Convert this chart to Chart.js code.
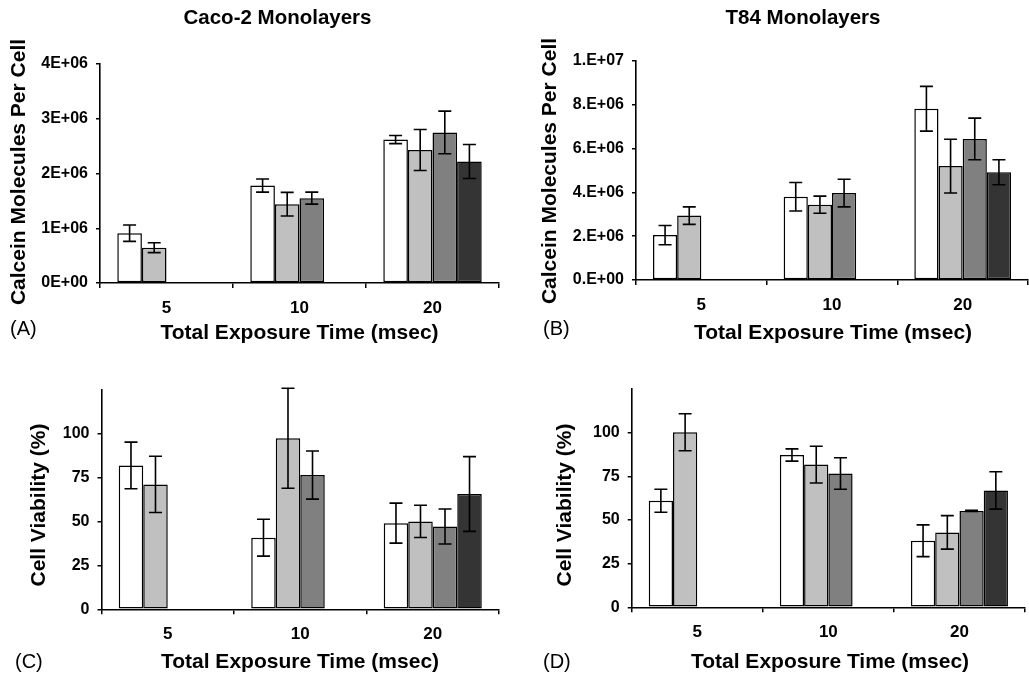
<!DOCTYPE html>
<html>
<head>
<meta charset="utf-8">
<title>Calcein uptake and cell viability</title>
<script src="https://cdn.jsdelivr.net/npm/chart.js@4.4.1/dist/chart.umd.min.js"></script>
<style>
  html, body { margin: 0; padding: 0; background: #ffffff; }
  #page { position: relative; width: 1029px; height: 676px; overflow: hidden; background: #ffffff; }
  #page canvas { position: absolute; left: 0; top: 0; }
</style>
</head>
<body>
<div id="page">
  <canvas id="panelA" width="1029" height="676"></canvas>
  <canvas id="panelB" width="1029" height="676"></canvas>
  <canvas id="panelC" width="1029" height="676"></canvas>
  <canvas id="panelD" width="1029" height="676"></canvas>
</div>
<script>
// ---- data -------------------------------------------------------------
const exposureTimes = ['5', '10', '20'];

// Calcein uptake in Caco-2 monolayers (molecules per cell), one row per group
const cacoUptake = [
  [0.91e6, 1.78e6, 2.62e6],
  [0.645e6, 1.44e6, 2.43e6],
  [null, 1.55e6, 2.75e6],
  [null, null, 2.22e6]
];
const cacoUptakeErr = [
  [0.15e6, 0.12e6, 0.075e6],
  [0.09e6, 0.215e6, 0.375e6],
  [null, 0.11e6, 0.39e6],
  [null, null, 0.31e6]
];

// Calcein uptake in T84 monolayers (molecules per cell)
const t84Uptake = [
  [2.05e6, 3.8e6, 7.82e6],
  [2.94e6, 3.44e6, 5.2e6],
  [null, 3.97e6, 6.44e6],
  [null, null, 4.92e6]
];
const t84UptakeErr = [
  [0.44e6, 0.65e6, 1.02e6],
  [0.4e6, 0.39e6, 1.23e6],
  [null, 0.63e6, 0.95e6],
  [null, null, 0.57e6]
];

// Cell viability (%) in Caco-2 monolayers
const cacoViability = [
  [82, 40.8, 49.1],
  [71.2, 97.5, 50.1],
  [null, 76.5, 47.2],
  [null, null, 65.7]
];
const cacoViabilityErr = [
  [13.3, 10.5, 11.4],
  [16, 28.5, 9.2],
  [null, 13.7, 10],
  [null, null, 21.3]
];

// Cell viability (%) in T84 monolayers
const t84Viability = [
  [61, 87.2, 38.1],
  [100.2, 81.7, 42.9],
  [null, 76.6, 55.2],
  [null, null, 66.9]
];
const t84ViabilityErr = [
  [6.6, 3.5, 9.1],
  [10.6, 10.5, 9.6],
  [null, 9, 0.3],
  [null, null, 10.7]
];

// Tick labels
const cacoUptakeTicks = ['0E+00', '1E+06', '2E+06', '3E+06', '4E+06'];
const t84UptakeTicks = ['0.E+00', '2.E+06', '4.E+06', '6.E+06', '8.E+06', '1.E+07'];
const viabilityTicks = ['0', '25', '50', '75', '100', ''];

// ---- styling ----------------------------------------------------------
const FONT = '"Liberation Sans", Arial, Helvetica, sans-serif';
const fills = ['#ffffff', '#c0c0c0', '#808080', '#343434'];
const INK = '#000000';
const PAGE_W = 1029, PAGE_H = 676;
const Y_BOX = 90, X_BOX = 40;

// Error bars (mean ± SD) drawn through the value scale
const errorBars = {
  id: 'errorBars',
  afterDatasetsDraw(chart, args, opts) {
    const { ctx } = chart;
    const yScale = chart.scales.y;
    ctx.save();
    ctx.strokeStyle = opts.color || INK;
    ctx.lineWidth = opts.width || 1.6;
    chart.data.datasets.forEach((ds, i) => {
      const meta = chart.getDatasetMeta(i);
      meta.data.forEach((bar, j) => {
        const v = ds.data[j];
        const e = ds.errors ? ds.errors[j] : null;
        if (v == null || e == null) return;
        const yTop = yScale.getPixelForValue(v + e);
        const yBot = yScale.getPixelForValue(v - e);
        const x = bar.x;
        const half = opts.cap / 2;
        ctx.beginPath();
        ctx.moveTo(x, yTop); ctx.lineTo(x, yBot);
        ctx.moveTo(x - half, yTop); ctx.lineTo(x + half, yTop);
        ctx.moveTo(x - half, yBot); ctx.lineTo(x + half, yBot);
        ctx.stroke();
      });
    });
    ctx.restore();
  }
};

// Panel headings, axis titles and panel letter
const panelText = {
  id: 'panelText',
  afterDraw(chart, args, o) {
    const { ctx } = chart;
    ctx.save();
    ctx.fillStyle = INK;
    ctx.textBaseline = 'middle';
    ctx.textAlign = 'center';
    if (o.title) {
      ctx.font = 'bold 20.5px ' + FONT;
      ctx.fillText(o.title, o.titleAt[0], o.titleAt[1]);
    }
    ctx.font = 'bold 21px ' + FONT;
    ctx.fillText(o.xTitle, o.xTitleAt[0], o.xTitleAt[1]);
    ctx.save();
    ctx.translate(o.yTitleAt[0], o.yTitleAt[1]);
    ctx.rotate(-Math.PI / 2);
    ctx.fillText(o.yTitle, 0, 0);
    ctx.restore();
    ctx.font = '20px ' + FONT;
    ctx.textAlign = 'left';
    ctx.fillText(o.letter, o.letterAt[0], o.letterAt[1]);
    ctx.restore();
  }
};

function buildDatasets(means, errs) {
  return means.map((row, k) => ({
    label: 'Group ' + (k + 1),
    data: row,
    errors: errs[k],
    backgroundColor: fills[k],
    borderColor: INK,
    borderWidth: 1.5,
    borderSkipped: false,
    categoryPercentage: 0.74,
    barPercentage: 1.0
  }));
}

function makePanel(canvasId, cfg) {
  const area = cfg.area;
  const labels = cfg.tickLabels;
  return new Chart(document.getElementById(canvasId), {
    type: 'bar',
    data: { labels: exposureTimes, datasets: buildDatasets(cfg.means, cfg.errs) },
    plugins: [errorBars, panelText],
    options: {
      responsive: false,
      devicePixelRatio: 1,
      animation: false,
      events: [],
      layout: {
        padding: {
          left: area.left - Y_BOX,
          right: PAGE_W - area.right,
          top: area.top,
          bottom: PAGE_H - area.bottom - X_BOX
        }
      },
      scales: {
        x: {
          type: 'category',
          offset: true,
          afterFit: s => { s.height = X_BOX; },
          grid: {
            offset: true,
            drawOnChartArea: false,
            drawTicks: true,
            tickLength: 5,
            color: INK,
            lineWidth: 1.5
          },
          border: { display: true, color: INK, width: 1.6 },
          ticks: {
            color: INK,
            padding: 10,
            font: { family: FONT, size: 17, weight: 'bold' }
          }
        },
        y: {
          min: 0,
          max: cfg.max,
          afterFit: s => { s.width = Y_BOX; },
          grid: {
            drawOnChartArea: false,
            drawTicks: true,
            tickLength: 4,
            color: INK,
            lineWidth: 1.5,
            tickColor: c => (c.tick && labels[c.index] === '') ? 'rgba(0,0,0,0)' : INK
          },
          border: { display: true, color: INK, width: 1.6 },
          ticks: {
            stepSize: cfg.step,
            color: INK,
            padding: 8,
            font: { family: FONT, size: 16, weight: 'bold' },
            callback: (v, i) => labels[i]
          }
        }
      },
      plugins: {
        legend: { display: false },
        tooltip: { enabled: false },
        title: { display: false },
        errorBars: { cap: 13, width: 1.6, color: INK },
        panelText: cfg.text
      }
    }
  });
}

makePanel('panelA', {
  means: cacoUptake, errs: cacoUptakeErr, tickLabels: cacoUptakeTicks,
  max: 4e6, step: 1e6,
  area: { left: 100, right: 499, top: 64, bottom: 283 },
  text: {
    title: 'Caco-2 Monolayers', titleAt: [277.5, 18],
    xTitle: 'Total Exposure Time (msec)', xTitleAt: [299.5, 333],
    yTitle: 'Calcein Molecules Per Cell', yTitleAt: [19, 172],
    letter: '(A)', letterAt: [10, 329]
  }
});

makePanel('panelB', {
  means: t84Uptake, errs: t84UptakeErr, tickLabels: t84UptakeTicks,
  max: 1e7, step: 2e6,
  area: { left: 636, right: 1028, top: 61, bottom: 280 },
  text: {
    title: 'T84 Monolayers', titleAt: [803, 18],
    xTitle: 'Total Exposure Time (msec)', xTitleAt: [833, 333],
    yTitle: 'Calcein Molecules Per Cell', yTitleAt: [550, 171],
    letter: '(B)', letterAt: [543, 329]
  }
});

makePanel('panelC', {
  means: cacoViability, errs: cacoViabilityErr, tickLabels: viabilityTicks,
  max: 125, step: 25,
  area: { left: 101.5, right: 499, top: 390, bottom: 609.3 },
  text: {
    xTitle: 'Total Exposure Time (msec)', xTitleAt: [300, 662],
    yTitle: 'Cell Viability (%)', yTitleAt: [39, 505],
    letter: '(C)', letterAt: [15, 662]
  }
});

makePanel('panelD', {
  means: t84Viability, errs: t84ViabilityErr, tickLabels: viabilityTicks,
  max: 125, step: 25,
  area: { left: 631.7, right: 1025, top: 389, bottom: 607.3 },
  text: {
    xTitle: 'Total Exposure Time (msec)', xTitleAt: [830, 662],
    yTitle: 'Cell Viability (%)', yTitleAt: [565, 505],
    letter: '(D)', letterAt: [543, 662]
  }
});
</script>
</body>
</html>
